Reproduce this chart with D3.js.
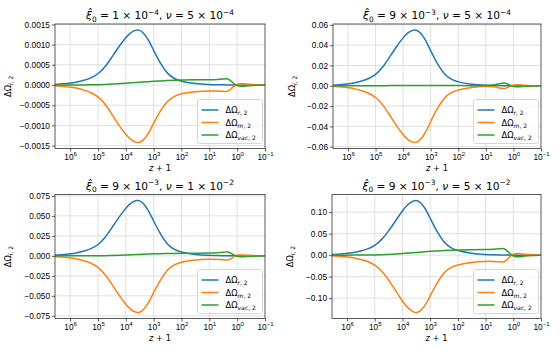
<!DOCTYPE html>
<html>
<head>
<meta charset="utf-8">
<script src="https://cdn.jsdelivr.net/npm/d3@7"></script>
<style>
  body { margin: 0; background: #fff; }
  svg { display: block; font-family: "DejaVu Sans", sans-serif; }
</style>
</head>
<body>
<div id="chart"></div>
<script>
// z+1 sample points (same for every panel), high z first
const zPlusOne = [3.5e6, 1e6, 5.6e5, 3.2e5, 1.8e5, 1e5, 5.6e4, 3.2e4, 1.8e4, 1e4, 6300, 4000, 3200, 2500, 1600, 1000,
  560, 320, 180, 100, 32, 10, 5, 3.2, 2.1, 1.6, 1.2, 0.89, 0.63, 0.4, 0.2, 0.1];
const xTicks = [1e6, 1e5, 1e4, 1e3, 1e2, 1e1, 1e0, 1e-1];
const xTickExp = ['6', '5', '4', '3', '2', '1', '0', '−1'];

// panel A : xi0 = 1e-4, nu = 5e-4
const radA = [0.000014, 0.000045, 0.000071, 0.000116, 0.000171, 0.000267, 0.000438, 0.000685, 0.000945, 0.001178,
  0.001315, 0.00137, 0.001356, 0.001315, 0.001151, 0.000849, 0.000521, 0.000274, 0.000151, 0.000089,
  0.00003, 0.000011, 0.000007, 0.000004, 0.000003, 0.000001, 0, 0, 0, 0, 0, 0];
const matA = [-0.000016, -0.00005, -0.000077, -0.000125, -0.000183, -0.000282, -0.000455, -0.00072, -0.00099, -0.00123,
  -0.00137, -0.00143, -0.00142, -0.00139, -0.00123, -0.00094, -0.00062, -0.00039, -0.00027, -0.00021,
  -0.000158, -0.000143, -0.000145, -0.000155, -0.000168, -0.00008, -0.000005, 0.00003, 0.000035, 0.00002, 0.000005, 0];
const vacA = [0, 0.000001, 0.000002, 0.000003, 0.000005, 0.000008, 0.000014, 0.000022, 0.000034, 0.000047,
  0.000056, 0.000065, 0.00007, 0.000074, 0.000082, 0.000092, 0.0001, 0.00011, 0.000118, 0.000123,
  0.000128, 0.000132, 0.000138, 0.000148, 0.000165, 0.00009, 0.000005, -0.000028, -0.000032, -0.000018, -0.000005, 0];

// panel B : xi0 = 9e-3, nu = 5e-4
const radB = [0.00055, 0.0018, 0.0029, 0.0047, 0.0069, 0.0108, 0.0177, 0.0277, 0.0382, 0.0476,
  0.0531, 0.0553, 0.0547, 0.0531, 0.0465, 0.0343, 0.021, 0.0111, 0.0061, 0.0036,
  0.0012, 0.0004, 0.0003, 0.0002, 0.0001, 0.0001, 0, 0, 0, 0, 0, 0];
const matB = [-0.00056, -0.0018, -0.0029, -0.0048, -0.007, -0.011, -0.018, -0.0282, -0.0389, -0.0484,
  -0.054, -0.0562, -0.0557, -0.054, -0.0473, -0.0349, -0.0214, -0.0114, -0.0063, -0.0038,
  -0.0013, -0.0005, -0.0008, -0.0024, -0.003, -0.0016, 0.0001, 0.001, 0.0011, 0.0005, 0.0001, 0];
const vacB = [0, 0, 0, 0, 0.0001, 0.0001, 0.0001, 0.0002, 0.0002, 0.0003,
  0.0003, 0.0003, 0.0003, 0.0003, 0.0003, 0.0002, 0.0002, 0.0002, 0.0002, 0.0002,
  0.0001, 0.0001, 0.0005, 0.0023, 0.003, 0.0016, -0.0001, -0.001, -0.0011, -0.0005, -0.0001, 0];

// panel C : xi0 = 9e-3, nu = 1e-2
const radC = [0.0007, 0.0023, 0.0036, 0.006, 0.0087, 0.0136, 0.0223, 0.0349, 0.0481, 0.0599,
  0.0669, 0.0697, 0.069, 0.0669, 0.0585, 0.0432, 0.0265, 0.0139, 0.0077, 0.0045,
  0.0015, 0.0006, 0.0003, 0.0002, 0.0001, 0.0001, 0, 0, 0, 0, 0, 0];
const matC = [-0.0007, -0.0023, -0.0036, -0.0061, -0.0088, -0.0138, -0.0226, -0.0353, -0.0488, -0.0609,
  -0.0682, -0.0713, -0.0707, -0.0688, -0.0607, -0.0457, -0.0293, -0.0169, -0.0108, -0.0077,
  -0.0048, -0.0041, -0.0041, -0.0047, -0.0055, -0.0031, -0.0001, 0.0011, 0.0013, 0.0007, 0.0002, 0];
const vacC = [0, 0, 0.00002, 0.00005, 0.00008, 0.0001, 0.0002, 0.0004, 0.0007, 0.001,
  0.0013, 0.0016, 0.0017, 0.0019, 0.0022, 0.0025, 0.0028, 0.003, 0.0031, 0.0032,
  0.0033, 0.0035, 0.0038, 0.0045, 0.0055, 0.003, 0.0001, -0.0011, -0.0013, -0.0007, -0.0002, 0];

// panel D : xi0 = 9e-3, nu = 5e-2
const radD = [0.0013, 0.004, 0.0061, 0.0096, 0.0141, 0.0218, 0.0358, 0.055, 0.0794, 0.1037,
  0.119, 0.1267, 0.128, 0.1254, 0.1126, 0.0858, 0.0538, 0.0294, 0.0166, 0.0102,
  0.0038, 0.0013, 0.0006, 0.0004, 0.0003, 0.0001, 0, 0, 0, 0, 0, 0];
const matD = [-0.0013, -0.004, -0.0062, -0.0098, -0.0144, -0.0223, -0.0368, -0.0567, -0.0821, -0.1075,
  -0.1238, -0.1325, -0.1343, -0.1322, -0.1204, -0.0946, -0.0637, -0.0402, -0.028, -0.0221,
  -0.0163, -0.0144, -0.0144, -0.0152, -0.0168, -0.0091, -0.0003, 0.0038, 0.0042, 0.0022, 0.0006, 0];
const vacD = [0, 0, 0.0001, 0.0002, 0.0003, 0.0005, 0.001, 0.0017, 0.0027, 0.0038,
  0.0048, 0.0058, 0.0063, 0.0068, 0.0078, 0.0088, 0.0099, 0.0108, 0.0114, 0.0119,
  0.0125, 0.0131, 0.0138, 0.0148, 0.0166, 0.009, 0.0003, -0.0038, -0.0042, -0.0022, -0.0006, 0];

const yTicksA = [-0.0015, -0.001, -0.0005, 0, 0.0005, 0.001, 0.0015];
const yTicksB = [-0.06, -0.04, -0.02, 0, 0.02, 0.04, 0.06];
const yTicksC = [-0.075, -0.05, -0.025, 0, 0.025, 0.05, 0.075];
const yTicksD = [-0.1, -0.05, 0, 0.05, 0.1];

const xiMantissa = ['1', '9', '9', '9'];
const xiExponent = ['−4', '−3', '−3', '−3'];
const nuMantissa = ['5', '5', '1', '5'];
const nuExponent = ['−4', '−4', '−2', '−2'];

const seriesNames = ['r', 'm', 'vac'];
const seriesColors = ['#1f77b4', '#ff7f0e', '#2ca02c'];

const panels = [
  { series: [radA, matA, vacA], yTicks: yTicksA, fmt: '.4f',
    box: { left: 55, right: 265, top: 24, bottom: 148.5 }, ylabelX: 8 },
  { series: [radB, matB, vacB], yTicks: yTicksB, fmt: '.2f',
    box: { left: 333, right: 541, top: 24, bottom: 148.5 }, ylabelX: 292 },
  { series: [radC, matC, vacC], yTicks: yTicksC, fmt: '.3f',
    box: { left: 55, right: 265, top: 194.5, bottom: 318.5 }, ylabelX: 8 },
  { series: [radD, matD, vacD], yTicks: yTicksD, fmt: '.2f',
    box: { left: 332, right: 541, top: 194.5, bottom: 318.5 }, ylabelX: 290 }
];

const FS = 8.3;       // tick / label font size
const SUB = 6;        // sub/superscript font size

const svg = d3.select('#chart').append('svg')
  .attr('width', 560)
  .attr('height', 350);

panels.forEach((p, i) => drawPanel(p, i));

function drawPanel(p, idx) {
  const b = p.box;
  const x = d3.scaleLog()
    .domain([d3.max(zPlusOne), d3.min(zPlusOne)])
    .range([b.left, b.right]);

  const [lo, hi] = d3.extent(p.series.flat());
  const pad = (hi - lo) * 0.05;
  const y = d3.scaleLinear()
    .domain([lo - pad, hi + pad])
    .range([b.bottom, b.top]);

  const g = svg.append('g').classed('panel', true);

  // grid
  g.append('g').selectAll('line.vgrid')
    .data(xTicks.filter(t => x(t) > b.left + 0.5 && x(t) < b.right - 0.5))
    .join('line')
      .attr('x1', d => x(d)).attr('x2', d => x(d))
      .attr('y1', b.top).attr('y2', b.bottom)
      .attr('stroke', '#d8d8d8').attr('stroke-width', 0.8);
  g.append('g').selectAll('line.hgrid')
    .data(p.yTicks)
    .join('line')
      .attr('x1', b.left).attr('x2', b.right)
      .attr('y1', d => y(d)).attr('y2', d => y(d))
      .attr('stroke', '#d8d8d8').attr('stroke-width', 0.8);

  // curves
  const clipId = `clip-${idx}`;
  g.append('clipPath').attr('id', clipId)
    .append('rect')
      .attr('x', b.left).attr('y', b.top)
      .attr('width', b.right - b.left).attr('height', b.bottom - b.top);

  const line = d3.line()
    .x(d => x(d[0]))
    .y(d => y(d[1]))
    .curve(d3.curveBasis);

  g.append('g').attr('clip-path', `url(#${clipId})`)
    .selectAll('path')
    .data(p.series)
    .join('path')
      .attr('d', vals => line(zPlusOne.map((z, k) => [z, vals[k]])))
      .attr('fill', 'none')
      .attr('stroke', (d, i) => seriesColors[i])
      .attr('stroke-width', 1.5);

  // x axis
  const xAxis = g.append('g')
    .attr('transform', `translate(0,${b.bottom})`)
    .call(d3.axisBottom(x).tickValues(xTicks).tickSize(3).tickPadding(3).tickFormat(''));
  xAxis.select('.domain').remove();
  xAxis.selectAll('.tick line').attr('stroke', '#333').attr('stroke-width', 0.8);
  xAxis.selectAll('.tick text')
    .attr('font-size', FS)
    .attr('fill', '#000')
    .attr('dy', '0.71em')
    .each(function(d, i) {
      const t = d3.select(this);
      t.append('tspan').text('10');
      t.append('tspan').attr('font-size', SUB).attr('dy', -4).text(xTickExp[i]);
    });

  // y axis
  const yAxis = g.append('g')
    .attr('transform', `translate(${b.left},0)`)
    .call(d3.axisLeft(y).tickValues(p.yTicks).tickSize(3).tickPadding(2)
      .tickFormat(d3.format(p.fmt)));
  yAxis.select('.domain').remove();
  yAxis.selectAll('.tick line').attr('stroke', '#333').attr('stroke-width', 0.8);
  yAxis.selectAll('.tick text').attr('font-size', FS).attr('fill', '#000');

  // frame
  g.append('rect')
    .attr('x', b.left).attr('y', b.top)
    .attr('width', b.right - b.left).attr('height', b.bottom - b.top)
    .attr('fill', 'none').attr('stroke', '#333').attr('stroke-width', 0.8);

  // x label
  const xl = g.append('text')
    .attr('x', (b.left + b.right) / 2)
    .attr('y', b.bottom + 22)
    .attr('text-anchor', 'middle')
    .attr('font-size', FS);
  xl.append('tspan').attr('font-style', 'italic').text('z');
  xl.append('tspan').text(' + 1');

  // y label
  const yl = g.append('text')
    .attr('transform', `translate(${p.ylabelX},${(b.top + b.bottom) / 2}) rotate(-90)`)
    .attr('text-anchor', 'middle')
    .attr('dy', '0.35em')
    .attr('font-size', FS);
  yl.append('tspan').text('ΔΩ');
  const ys = yl.append('tspan').attr('font-size', SUB).attr('dy', 2);
  ys.append('tspan').attr('font-style', 'italic').text('i');
  ys.append('tspan').text(', 2');

  // title
  const tt = g.append('text')
    .attr('x', (b.left + b.right) / 2)
    .attr('y', b.top - 5)
    .attr('text-anchor', 'middle')
    .attr('font-size', 10.6);
  tt.append('tspan').attr('font-style', 'italic').text('ξ\u0302');
  tt.append('tspan').attr('font-size', 7.4).attr('dy', 2.5).text('0');
  tt.append('tspan').attr('dy', -2.5).text(` = ${xiMantissa[idx]} × 10`);
  tt.append('tspan').attr('font-size', 7.4).attr('dy', -4.5).text(xiExponent[idx]);
  tt.append('tspan').attr('dy', 4.5).text(', ');
  tt.append('tspan').attr('font-style', 'italic').text('ν');
  tt.append('tspan').text(` = ${nuMantissa[idx]} × 10`);
  tt.append('tspan').attr('font-size', 7.4).attr('dy', -4.5).text(nuExponent[idx]);

  addLegend(g, b);
}

function addLegend(g, b) {
  const w = 65, h = 44;
  const lg = g.append('g')
    .attr('transform', `translate(${b.right - 2.5 - w},${b.bottom - 5 - h})`);
  lg.append('rect')
    .attr('width', w).attr('height', h).attr('rx', 2)
    .attr('fill', 'white').attr('fill-opacity', 0.8)
    .attr('stroke', '#cccccc').attr('stroke-width', 0.8);

  seriesNames.forEach((name, i) => {
    const cy = 10.5 + i * 12.5;
    lg.append('line')
      .attr('x1', 4).attr('x2', 21)
      .attr('y1', cy).attr('y2', cy)
      .attr('stroke', seriesColors[i]).attr('stroke-width', 1.5);
    const t = lg.append('text')
      .attr('x', 28).attr('y', cy + 3)
      .attr('font-size', FS);
    t.append('tspan').text('ΔΩ');
    const s = t.append('tspan').attr('font-size', SUB).attr('dy', 2);
    s.append('tspan').attr('font-style', 'italic').text(name);
    s.append('tspan').text(', 2');
  });
}
</script>
</body>
</html>
